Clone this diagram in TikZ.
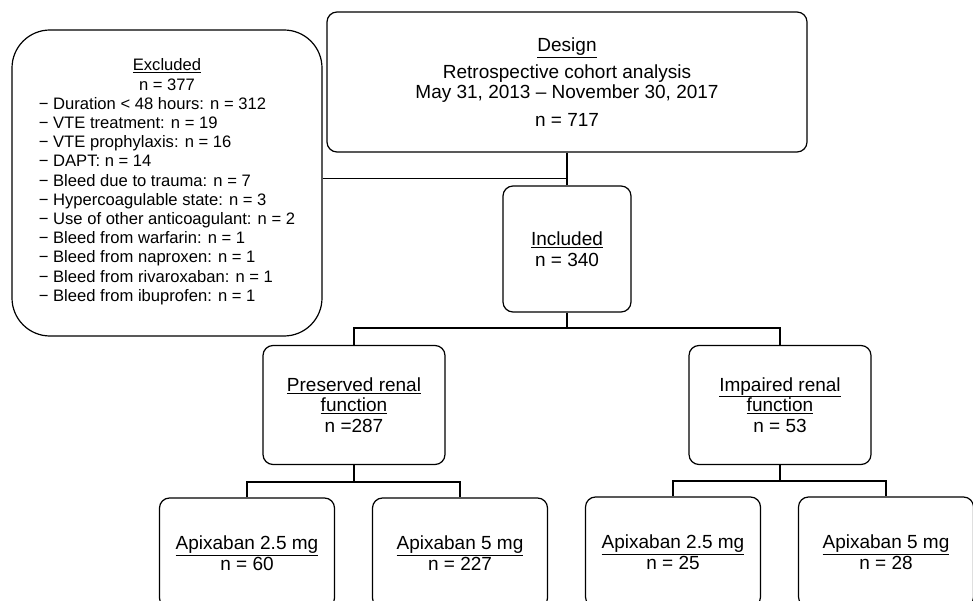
\documentclass[tikz,border=0pt]{standalone}
\usepackage{fontspec}
\setmainfont{Liberation Sans}
\begin{document}
\begin{tikzpicture}[x=1pt, y=-1pt,
	box/.style={draw, line width=1.2pt, rounded corners=10pt, align=center, inner sep=0pt,
		font=\fontsize{19}{20.5}\selectfont},
	armbox/.style={box, minimum width=175pt, minimum height=110pt},
	renalbox/.style={box, minimum width=182pt, minimum height=119pt},
	link/.style={line width=1.2pt},
	thinlink/.style={line width=0.8pt}]

	\useasboundingbox (0,0) rectangle (973,601);
	\clip (0,0) rectangle (973,601);

	\node[box, minimum width=480pt, minimum height=140pt] (design) at (567,82)
		{\underline{Design}\\[6pt] Retrospective cohort analysis\\ May 31, 2013 \textendash{} November 30, 2017\\[7pt] n = 717};
	\node[box, minimum width=128pt, minimum height=126pt] (incl) at (567,249) {\underline{Included}\\ n = 340};

	\node[box, rounded corners=38pt, minimum width=310pt, minimum height=306pt,
		font=\fontsize{16.6}{19.2}\selectfont] (excl) at (167,183)
		{\underline{Excluded}\\ n = 377\\
		\begin{tabular}[t]{@{}l@{}}
		− Duration < 48 hours: n = 312\\
		− VTE treatment: n = 19\\
		− VTE prophylaxis: n = 16\\
		− DAPT: n = 14\\
		− Bleed due to trauma: n = 7\\
		− Hypercoagulable state: n = 3\\
		− Use of other anticoagulant: n = 2\\
		− Bleed from warfarin: n = 1\\
		− Bleed from naproxen: n = 1\\
		− Bleed from rivaroxaban: n = 1\\
		− Bleed from ibuprofen: n = 1
		\end{tabular}};

	\node[renalbox] (pres) at (354,405) {\underline{Preserved renal}\\ \underline{function}\\ n =287};
	\node[renalbox] (imp) at (780,405) {\underline{Impaired renal}\\ \underline{function}\\ n = 53};

	\node[armbox] (presLow) at (247,553) {\underline{Apixaban 2.5 mg}\\ n = 60};
	\node[armbox] (presHigh) at (460,553) {\underline{Apixaban 5 mg}\\ n = 227};
	\node[armbox] (impLow) at (673,552) {\underline{Apixaban 2.5 mg}\\ n = 25};
	\node[armbox] (impHigh) at (886,552) {\underline{Apixaban 5 mg}\\ n = 28};

	% joins
	\coordinate (exJoin) at (567,178);
	\coordinate (renalJoin) at (567,328);
	\coordinate (presJoin) at (354,482);
	\coordinate (impJoin) at (780,481);

	\draw[link] (design.south) -- (incl.north);
	\draw[thinlink] (exJoin -| excl.east) -- (exJoin);

	\draw[link] (incl.south) -- (renalJoin);
	\draw[link] (pres.north) |- (renalJoin) -| (imp.north);

	\draw[link] (pres.south) -- (presJoin);
	\draw[link] (presLow.north) |- (presJoin) -| (presHigh.north);

	\draw[link] (imp.south) -- (impJoin);
	\draw[link] (impLow.north) |- (impJoin) -| (impHigh.north);

\end{tikzpicture}
\end{document}
